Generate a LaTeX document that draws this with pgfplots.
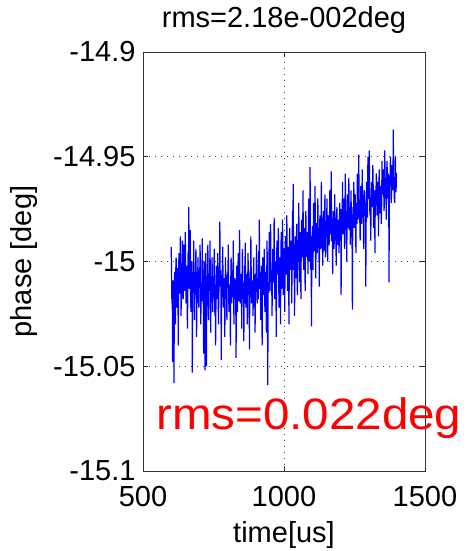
\documentclass[border=0pt]{standalone}
\usepackage{fontspec}
\setmainfont{Liberation Sans}
\usepackage{pgfplots}
\usepackage{pgfplotstable}
\pgfplotsset{compat=1.18}

\definecolor{mblue}{RGB}{0,0,255}

\pgfplotstableread{
x y
600 -14.993
601.25 -15.005
602.5 -15.020
603.75 -15.014
605 -15.048
606.25 -15.009
607.5 -15.012
608.75 -15.017
610 -15.058
611.25 -15.007
612.5 -15.005
613.75 -15.012
615 -15.030
616.25 -15.004
617.5 -14.998
618.75 -15.015
620 -15.022
621.25 -15.010
622.5 -15.003
623.75 -15.006
625 -15.040
626.25 -15.006
627.5 -14.996
628.75 -15.010
630 -15.015
631.25 -15.015
632.5 -14.988
633.75 -15.004
635 -15.026
636.25 -15.012
637.5 -15.004
638.75 -15.007
640 -14.990
641.25 -15.017
642.5 -15.018
643.75 -15.009
645 -14.992
646.25 -15.014
647.5 -15.012
648.75 -15.005
650 -14.986
651.25 -15.006
652.5 -15.020
653.75 -15.015
655 -15.002
656.25 -15.010
657.5 -15.032
658.75 -15.018
660 -14.995
661.25 -15.008
662.5 -14.974
663.75 -15.013
665 -15.010
666.25 -15.005
667.5 -14.985
668.75 -15.016
670 -15.024
671.25 -15.011
672.5 -15.000
673.75 -15.007
675 -15.053
676.25 -15.007
677.5 -15.008
678.75 -15.011
680 -14.990
681.25 -15.016
682.5 -15.028
683.75 -15.005
685 -15.006
686.25 -15.013
687.5 -14.994
688.75 -15.008
690 -15.036
691.25 -15.018
692.5 -15.012
693.75 -15.010
695 -14.998
696.25 -15.015
697.5 -15.022
698.75 -15.006
700 -15.004
701.25 -15.007
702.5 -14.992
703.75 -15.016
705 -15.030
706.25 -15.011
707.5 -15.010
708.75 -15.019
710 -14.989
711.25 -15.009
712.5 -15.018
713.75 -15.014
715 -15.044
716.25 -15.006
717.5 -15.000
718.75 -15.017
720 -15.052
721.25 -15.012
722.5 -14.996
723.75 -15.008
725 -15.050
726.25 -15.008
727.5 -15.014
728.75 -15.012
730 -14.992
731.25 -15.017
732.5 -15.028
733.75 -15.006
735 -15.006
736.25 -15.014
737.5 -14.990
738.75 -15.009
740 -15.034
741.25 -15.019
742.5 -15.016
743.75 -15.011
745 -14.998
746.25 -15.016
747.5 -15.024
748.75 -15.007
750 -15.008
751.25 -15.007
752.5 -14.994
753.75 -15.016
755 -15.026
756.25 -15.011
757.5 -15.040
758.75 -15.019
760 -15.002
761.25 -15.009
762.5 -15.018
763.75 -15.014
765 -14.996
766.25 -15.006
767.5 -15.030
768.75 -15.017
770 -15.010
771.25 -15.012
772.5 -14.981
773.75 -15.008
775 -15.012
776.25 -15.008
777.5 -15.047
778.75 -15.012
780 -15.004
781.25 -15.017
782.5 -14.993
783.75 -15.006
785 -15.022
786.25 -15.014
787.5 -15.008
788.75 -15.009
790 -15.036
791.25 -15.019
792.5 -14.998
793.75 -15.011
795 -15.016
796.25 -15.016
797.5 -15.028
798.75 -15.007
800 -15.006
801.25 -15.007
802.5 -14.992
803.75 -15.016
805 -15.024
806.25 -15.011
807.5 -15.012
808.75 -15.019
810 -15.040
811.25 -15.009
812.5 -14.998
813.75 -15.014
815 -15.020
816.25 -15.006
817.5 -15.004
818.75 -15.017
820 -14.990
821.25 -15.012
822.5 -15.030
823.75 -15.008
825 -15.010
826.25 -15.008
827.5 -15.018
828.75 -15.012
830 -15.046
831.25 -15.017
832.5 -15.002
833.75 -15.006
835 -15.024
836.25 -15.014
837.5 -14.996
838.75 -15.009
840 -15.014
841.25 -15.019
842.5 -14.985
843.75 -15.011
845 -15.020
846.25 -15.016
847.5 -15.006
848.75 -15.007
850 -15.032
851.25 -15.007
852.5 -14.994
853.75 -15.016
855 -15.012
856.25 -15.011
857.5 -15.038
858.75 -15.019
860 -15.002
861.25 -15.009
862.5 -14.991
863.75 -15.014
865 -15.022
866.25 -15.006
867.5 -15.008
868.75 -15.017
870 -15.030
871.25 -15.012
872.5 -14.996
873.75 -15.008
875 -15.016
876.25 -15.008
877.5 -15.042
878.75 -15.012
880 -15.004
881.25 -15.017
882.5 -14.988
883.75 -15.006
885 -15.020
886.25 -15.014
887.5 -15.010
888.75 -15.009
890 -15.026
891.25 -15.019
892.5 -14.998
893.75 -15.011
895 -15.014
896.25 -15.016
897.5 -15.034
898.75 -15.007
900 -15.006
901.25 -15.006
902.5 -14.992
903.75 -15.015
905 -15.020
906.25 -15.010
907.5 -15.008
908.75 -15.018
910 -14.995
911.25 -15.008
912.5 -14.980
913.75 -15.013
915 -15.012
916.25 -15.005
917.5 -15.028
918.75 -15.016
920 -15.002
921.25 -15.011
922.5 -15.040
923.75 -15.007
925 -14.998
926.25 -15.007
927.5 -15.016
928.75 -15.011
930 -14.994
931.25 -15.016
932.5 -15.024
933.75 -15.005
935 -15.006
936.25 -15.013
937.5 -15.034
938.75 -15.008
940 -14.990
941.25 -15.018
942.5 -15.059
943.75 -15.010
945 -15.010
946.25 -15.015
947.5 -14.986
948.75 -15.006
950 -15.014
951.25 -15.001
952.5 -14.982
953.75 -15.010
955 -15.004
956.25 -15.005
957.5 -15.026
958.75 -15.013
960 -14.994
961.25 -15.003
962.5 -15.010
963.75 -15.008
965 -14.979
966.25 -15.000
967.5 -15.018
968.75 -15.011
970 -15.000
971.25 -15.006
972.5 -15.036
973.75 -15.002
975 -14.990
976.25 -15.002
977.5 -15.006
978.75 -15.006
980 -14.984
981.25 -15.011
982.5 -15.022
983.75 -15.000
985 -14.998
986.25 -15.008
987.5 -15.030
988.75 -15.003
990 -14.986
991.25 -15.013
992.5 -15.008
993.75 -15.005
995 -14.980
996.25 -15.010
997.5 -15.016
998.75 -15.001
1000 -14.994
1001.25 -14.994
1002.5 -15.024
1003.75 -15.003
1005 -14.988
1006.25 -14.998
1007.5 -15.006
1008.75 -15.006
1010 -14.978
1011.25 -14.996
1012.5 -15.014
1013.75 -15.001
1015 -14.996
1016.25 -14.993
1017.5 -15.030
1018.75 -15.004
1020 -14.984
1021.25 -14.999
1022.5 -15.004
1023.75 -14.995
1025 -14.990
1026.25 -14.995
1027.5 -15.020
1028.75 -14.999
1030 -14.976
1031.25 -15.004
1032.5 -14.963
1033.75 -14.993
1035 -15.000
1036.25 -15.001
1037.5 -15.026
1038.75 -14.996
1040 -14.988
1041.25 -15.006
1042.5 -15.008
1043.75 -14.998
1045 -14.982
1046.25 -15.003
1047.5 -15.016
1048.75 -14.994
1050 -14.994
1051.25 -14.988
1052.5 -14.972
1053.75 -14.997
1055 -15.010
1056.25 -14.992
1057.5 -14.986
1058.75 -15.000
1060 -15.018
1061.25 -14.990
1062.5 -14.980
1063.75 -14.995
1065 -14.998
1066.25 -14.987
1067.5 -14.966
1068.75 -14.998
1070 -15.004
1071.25 -14.993
1072.5 -14.984
1073.75 -14.989
1075 -15.014
1076.25 -14.989
1077.5 -14.976
1078.75 -14.993
1080 -14.996
1081.25 -14.998
1082.5 -14.986
1083.75 -14.987
1085 -15.006
1086.25 -14.995
1087.5 -14.970
1088.75 -14.990
1090 -14.992
1091.25 -15.000
1092.5 -14.955
1093.75 -14.992
1095 -15.004
1096.25 -14.997
1097.5 -15.031
1098.75 -14.988
1100 -14.988
1101.25 -14.983
1102.5 -15.004
1103.75 -14.992
1105 -14.972
1106.25 -14.987
1107.5 -14.994
1108.75 -14.995
1110 -14.964
1111.25 -14.985
1112.5 -15.008
1113.75 -14.990
1115 -14.982
1116.25 -14.982
1117.5 -14.996
1118.75 -14.993
1120 -14.970
1121.25 -14.988
1122.5 -14.990
1123.75 -14.984
1125 -15.012
1126.25 -14.984
1127.5 -14.978
1128.75 -14.988
1130 -14.994
1131.25 -14.993
1132.5 -14.962
1133.75 -14.982
1135 -14.986
1136.25 -14.990
1137.5 -15.002
1138.75 -14.985
1140 -14.976
1141.25 -14.995
1142.5 -14.992
1143.75 -14.987
1145 -14.968
1146.25 -14.992
1147.5 -14.998
1148.75 -14.983
1150 -14.984
1151.25 -14.980
1152.5 -14.970
1153.75 -14.989
1155 -15.000
1156.25 -14.984
1157.5 -14.978
1158.75 -14.992
1160 -14.992
1161.25 -14.982
1162.5 -14.966
1163.75 -14.987
1165 -14.986
1166.25 -14.979
1167.5 -14.957
1168.75 -14.990
1170 -14.990
1171.25 -14.985
1172.5 -15.006
1173.75 -14.981
1175 -14.976
1176.25 -14.981
1177.5 -14.994
1178.75 -14.985
1180 -14.968
1181.25 -14.990
1182.5 -14.988
1183.75 -14.979
1185 -15.002
1186.25 -14.987
1187.5 -14.974
1188.75 -14.982
1190 -14.990
1191.25 -14.992
1192.5 -14.980
1193.75 -14.984
1195 -14.996
1196.25 -14.989
1197.5 -14.972
1198.75 -14.980
1200 -14.990
1201.25 -14.975
1202.5 -15.016
1203.75 -14.984
1205 -14.978
1206.25 -14.979
1207.5 -14.962
1208.75 -14.987
1210 -14.986
1211.25 -14.977
1212.5 -14.970
1213.75 -14.982
1215 -14.994
1216.25 -14.974
1217.5 -14.958
1218.75 -14.985
1220 -14.980
1221.25 -14.980
1222.5 -15.000
1223.75 -14.976
1225 -14.968
1226.25 -14.976
1227.5 -14.984
1228.75 -14.980
1230 -14.960
1231.25 -14.985
1232.5 -14.976
1233.75 -14.974
1235 -14.992
1236.25 -14.982
1237.5 -14.966
1238.75 -14.977
1240 -14.982
1241.25 -14.987
1242.5 -15.023
1243.75 -14.979
1245 -14.974
1246.25 -14.984
1247.5 -14.962
1248.75 -14.975
1250 -14.984
1251.25 -14.970
1252.5 -14.968
1253.75 -14.979
1255 -14.996
1256.25 -14.974
1257.5 -14.972
1258.75 -14.982
1260 -14.958
1261.25 -14.972
1262.5 -14.980
1263.75 -14.977
1265 -14.949
1266.25 -14.969
1267.5 -14.976
1268.75 -14.980
1270 -14.990
1271.25 -14.975
1272.5 -14.964
1273.75 -14.971
1275 -14.982
1276.25 -14.971
1277.5 -14.956
1278.75 -14.975
1280 -14.972
1281.25 -14.980
1282.5 -14.994
1283.75 -14.969
1285 -14.966
1286.25 -14.977
1287.5 -14.978
1288.75 -14.972
1290 -15.012
1291.25 -14.982
1292.5 -14.962
1293.75 -14.974
1295 -14.976
1296.25 -14.979
1297.5 -14.950
1298.75 -14.970
1300 -14.970
1301.25 -14.965
1302.5 -14.947
1303.75 -14.974
1305 -14.978
1306.25 -14.969
1307.5 -14.990
1308.75 -14.977
1310 -14.962
1311.25 -14.967
1312.5 -14.974
1313.75 -14.972
1315 -14.954
1316.25 -14.964
1317.5 -14.984
1318.75 -14.975
1320 -14.966
1321.25 -14.970
1322.5 -14.996
1323.75 -14.966
1325 -14.970
1326.25 -14.966
1327.5 -14.958
1328.75 -14.970
1330 -14.978
1331.25 -14.975
1332.5 -14.962
1333.75 -14.964
1335 -14.988
1336.25 -14.972
1337.5 -14.956
1338.75 -14.967
1340 -14.972
1341.25 -14.977
1342.5 -14.964
1343.75 -14.969
1345 -14.982
1346.25 -14.974
1347.5 -14.952
1348.75 -14.965
1350 -14.968
1351.25 -14.958
1352.5 -14.956
1353.75 -14.967
1355 -14.976
1356.25 -14.962
1357.5 -14.947
1358.75 -14.970
1360 -14.962
1361.25 -14.960
1362.5 -14.980
1363.75 -14.965
1365 -14.952
1366.25 -14.957
1367.5 -14.970
1368.75 -14.968
1370 -14.958
1371.25 -14.963
1372.5 -15.010
1373.75 -14.959
1375 -14.964
1376.25 -14.959
1377.5 -14.950
1378.75 -14.963
1380 -14.972
1381.25 -14.968
1382.5 -14.954
1383.75 -14.957
1385 -14.966
1386.25 -14.965
1387.5 -14.937
1388.75 -14.960
1390 -14.960
1391.25 -14.970
1392.5 -14.972
1393.75 -14.962
1395 -14.950
1396.25 -14.967
1397.5 -14.966
1398.75 -14.958
1400 -14.958
}\phasedata

\begin{document}
\begin{tikzpicture}
\begin{axis}[
    scale only axis,
    width=282pt, height=419pt,
    xmin=500, xmax=1500,
    ymin=-15.1, ymax=-14.9,
    xtick={500,1000,1500},
    xticklabels={500,1000,1500},
    ytick={-15.1,-15.05,-15,-14.95,-14.9},
    yticklabels={-15.1,-15.05,-15,-14.95,-14.9},
    /pgf/number format/assume math mode=true,
    tick label style={font=\fontsize{29}{31}\selectfont},
    xticklabel style={anchor=base, yshift=-35pt},
    yticklabel style={xshift=-4pt},
    tick align=inside,
    major tick length=5pt,
    axis line style={black!80, line width=0.8pt},
    every tick/.style={black!80, line width=0.8pt},
    grid=major,
    major grid style={black!75, line width=0.8pt, dash pattern=on 1pt off 5pt},
    title={rms=2.18e-002deg},
    title style={font=\fontsize{29}{31}\selectfont, at={(axis description cs:0.5,1.0453)}, anchor=base},
    xlabel={time[us]},
    xlabel style={font=\fontsize{29}{31}\selectfont, at={(axis description cs:0.5,-0.1695)}, anchor=base},
    ylabel={phase [deg]},
    ylabel style={font=\fontsize{29}{31}\selectfont, at={(axis description cs:-0.394,0.5)}, anchor=base},
    clip=false,
]
\addplot[mblue, line width=1.2pt] table[x=x, y=y] {\phasedata};
\node[anchor=base west, inner sep=0pt, text=red, xscale=1.08,
      font=\fontsize{44}{46}\selectfont] at (axis cs:546,-15.0804) {rms=0.022deg};
\end{axis}
\pgfresetboundingbox
\path[use as bounding box] (-143pt,-80pt) rectangle (325pt,471pt);
\end{tikzpicture}
\end{document}
